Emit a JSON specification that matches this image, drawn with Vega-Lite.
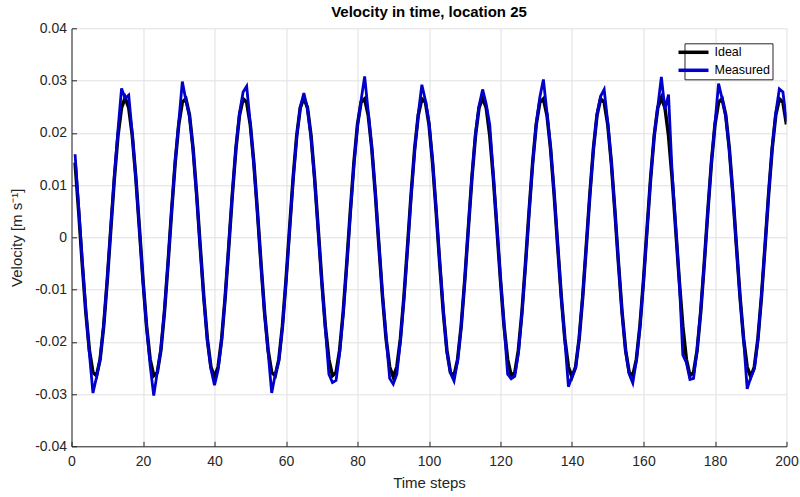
{
"$schema":"https://vega.github.io/schema/vega-lite/v6.json",
"width":715,"height":418,
"autosize":{"type":"none"},
"padding":{"left":71.5,"top":28.3,"right":13.5,"bottom":50.3},
"background":"white",
"config":{"view":{"stroke":null},"font":"Liberation Sans"},
"title":{"text":"Velocity in time, location 25","fontSize":15,"fontWeight":"bold","color":"#000000","offset":1,"anchor":"middle"},
"data":{"values":[
{"t":1,"i":0.01431,"m":0.0159},{"t":2,"i":0.005,"m":0.0058},{"t":3,"i":-0.005,"m":-0.0045},{"t":4,"i":-0.01431,"m":-0.014},{"t":5,"i":-0.0216,"m":-0.0222},
{"t":6,"i":-0.02586,"m":-0.0298},{"t":7,"i":-0.02649,"m":-0.0268},{"t":8,"i":-0.0234,"m":-0.0232},{"t":9,"i":-0.01702,"m":-0.0168},{"t":10,"i":-0.00825,"m":-0.008},
{"t":11,"i":0.00168,"m":0.002},{"t":12,"i":0.01137,"m":0.0118},{"t":13,"i":0.01946,"m":0.0205},{"t":14,"i":0.02483,"m":0.0285},{"t":15,"i":0.0267,"m":0.0266},
{"t":16,"i":0.02483,"m":0.0272},{"t":17,"i":0.01946,"m":0.0198},{"t":18,"i":0.01137,"m":0.0112},{"t":19,"i":0.00168,"m":0.0015},{"t":20,"i":-0.00825,"m":-0.0085},
{"t":21,"i":-0.01702,"m":-0.0172},{"t":22,"i":-0.0234,"m":-0.0245},{"t":23,"i":-0.02649,"m":-0.0303},{"t":24,"i":-0.02586,"m":-0.0258},{"t":25,"i":-0.0216,"m":-0.0214},
{"t":26,"i":-0.01431,"m":-0.014},{"t":27,"i":-0.005,"m":-0.0048},{"t":28,"i":0.005,"m":0.0052},{"t":29,"i":0.01431,"m":0.0146},{"t":30,"i":0.0216,"m":0.022},
{"t":31,"i":0.02586,"m":0.0298},{"t":32,"i":0.02649,"m":0.0262},{"t":33,"i":0.0234,"m":0.0232},{"t":34,"i":0.01702,"m":0.0168},{"t":35,"i":0.00825,"m":0.008},
{"t":36,"i":-0.00168,"m":-0.002},{"t":37,"i":-0.01137,"m":-0.0116},{"t":38,"i":-0.01946,"m":-0.0198},{"t":39,"i":-0.02483,"m":-0.0252},{"t":40,"i":-0.0267,"m":-0.0283},
{"t":41,"i":-0.02483,"m":-0.0254},{"t":42,"i":-0.01946,"m":-0.0197},{"t":43,"i":-0.01137,"m":-0.0112},{"t":44,"i":-0.00168,"m":-0.0014},{"t":45,"i":0.00825,"m":0.0085},
{"t":46,"i":0.01702,"m":0.0172},{"t":47,"i":0.0234,"m":0.0238},{"t":48,"i":0.02649,"m":0.0278},{"t":49,"i":0.02586,"m":0.0289},{"t":50,"i":0.0216,"m":0.0218},
{"t":51,"i":0.01431,"m":0.014},{"t":52,"i":0.005,"m":0.0048},{"t":53,"i":-0.005,"m":-0.0052},{"t":54,"i":-0.01431,"m":-0.0146},{"t":55,"i":-0.0216,"m":-0.022},
{"t":56,"i":-0.02586,"m":-0.0298},{"t":57,"i":-0.02649,"m":-0.0262},{"t":58,"i":-0.0234,"m":-0.0236},{"t":59,"i":-0.01702,"m":-0.0172},{"t":60,"i":-0.00825,"m":-0.0085},
{"t":61,"i":0.00168,"m":0.0014},{"t":62,"i":0.01137,"m":0.0112},{"t":63,"i":0.01946,"m":0.0193},{"t":64,"i":0.02483,"m":0.025},{"t":65,"i":0.0267,"m":0.0276},
{"t":66,"i":0.02483,"m":0.0246},{"t":67,"i":0.01946,"m":0.0192},{"t":68,"i":0.01137,"m":0.011},{"t":69,"i":0.00168,"m":0.0014},{"t":70,"i":-0.00825,"m":-0.0086},
{"t":71,"i":-0.01702,"m":-0.0174},{"t":72,"i":-0.0234,"m":-0.0262},{"t":73,"i":-0.02649,"m":-0.0278},{"t":74,"i":-0.02586,"m":-0.0274},{"t":75,"i":-0.0216,"m":-0.0222},
{"t":76,"i":-0.01431,"m":-0.0145},{"t":77,"i":-0.005,"m":-0.0052},{"t":78,"i":0.005,"m":0.0046},{"t":79,"i":0.01431,"m":0.014},{"t":80,"i":0.0216,"m":0.0214},
{"t":81,"i":0.02586,"m":0.0262},{"t":82,"i":0.02649,"m":0.0308},{"t":83,"i":0.0234,"m":0.024},{"t":84,"i":0.01702,"m":0.017},{"t":85,"i":0.00825,"m":0.0084},
{"t":86,"i":-0.00168,"m":-0.0015},{"t":87,"i":-0.01137,"m":-0.0112},{"t":88,"i":-0.01946,"m":-0.019},{"t":89,"i":-0.02483,"m":-0.027},{"t":90,"i":-0.0267,"m":-0.0281},
{"t":91,"i":-0.02483,"m":-0.0262},{"t":92,"i":-0.01946,"m":-0.0197},{"t":93,"i":-0.01137,"m":-0.0116},{"t":94,"i":-0.00168,"m":-0.002},{"t":95,"i":0.00825,"m":0.008},
{"t":96,"i":0.01702,"m":0.0168},{"t":97,"i":0.0234,"m":0.0236},{"t":98,"i":0.02649,"m":0.0292},{"t":99,"i":0.02586,"m":0.0262},{"t":100,"i":0.0216,"m":0.022},
{"t":101,"i":0.01431,"m":0.0145},{"t":102,"i":0.005,"m":0.0052},{"t":103,"i":-0.005,"m":-0.0048},{"t":104,"i":-0.01431,"m":-0.014},{"t":105,"i":-0.0216,"m":-0.022},
{"t":106,"i":-0.02586,"m":-0.026},{"t":107,"i":-0.02649,"m":-0.0275},{"t":108,"i":-0.0234,"m":-0.0236},{"t":109,"i":-0.01702,"m":-0.017},{"t":110,"i":-0.00825,"m":-0.0082},
{"t":111,"i":0.00168,"m":0.0018},{"t":112,"i":0.01137,"m":0.0115},{"t":113,"i":0.01946,"m":0.0198},{"t":114,"i":0.02483,"m":0.0252},{"t":115,"i":0.0267,"m":0.0283},
{"t":116,"i":0.02483,"m":0.0255},{"t":117,"i":0.01946,"m":0.0215},{"t":118,"i":0.01137,"m":0.0118},{"t":119,"i":0.00168,"m":0.002},{"t":120,"i":-0.00825,"m":-0.008},
{"t":121,"i":-0.01702,"m":-0.0168},{"t":122,"i":-0.0234,"m":-0.0262},{"t":123,"i":-0.02649,"m":-0.0271},{"t":124,"i":-0.02586,"m":-0.0266},{"t":125,"i":-0.0216,"m":-0.0222},
{"t":126,"i":-0.01431,"m":-0.0145},{"t":127,"i":-0.005,"m":-0.0052},{"t":128,"i":0.005,"m":0.0048},{"t":129,"i":0.01431,"m":0.0142},{"t":130,"i":0.0216,"m":0.0218},
{"t":131,"i":0.02586,"m":0.0268},{"t":132,"i":0.02649,"m":0.0302},{"t":133,"i":0.0234,"m":0.0238},{"t":134,"i":0.01702,"m":0.0172},{"t":135,"i":0.00825,"m":0.0085},
{"t":136,"i":-0.00168,"m":-0.0015},{"t":137,"i":-0.01137,"m":-0.0115},{"t":138,"i":-0.01946,"m":-0.0196},{"t":139,"i":-0.02483,"m":-0.0286},{"t":140,"i":-0.0267,"m":-0.0266},
{"t":141,"i":-0.02483,"m":-0.025},{"t":142,"i":-0.01946,"m":-0.0192},{"t":143,"i":-0.01137,"m":-0.0112},{"t":144,"i":-0.00168,"m":-0.0016},{"t":145,"i":0.00825,"m":0.0082},
{"t":146,"i":0.01702,"m":0.017},{"t":147,"i":0.0234,"m":0.0236},{"t":148,"i":0.02649,"m":0.027},{"t":149,"i":0.02586,"m":0.0283},{"t":150,"i":0.0216,"m":0.022},
{"t":151,"i":0.01431,"m":0.0143},{"t":152,"i":0.005,"m":0.005},{"t":153,"i":-0.005,"m":-0.005},{"t":154,"i":-0.01431,"m":-0.0145},{"t":155,"i":-0.0216,"m":-0.0218},
{"t":156,"i":-0.02586,"m":-0.0262},{"t":157,"i":-0.02649,"m":-0.0279},{"t":158,"i":-0.0234,"m":-0.0236},{"t":159,"i":-0.01702,"m":-0.0172},{"t":160,"i":-0.00825,"m":-0.0084},
{"t":161,"i":0.00168,"m":0.0015},{"t":162,"i":0.01137,"m":0.0114},{"t":163,"i":0.01946,"m":0.0195},{"t":164,"i":0.02483,"m":0.025},{"t":165,"i":0.0267,"m":0.0307},
{"t":166,"i":0.02483,"m":0.0245},{"t":167,"i":0.01946,"m":0.0273},{"t":168,"i":0.01137,"m":0.0125},{"t":169,"i":0.00168,"m":0.002},{"t":170,"i":-0.00825,"m":-0.0082},
{"t":171,"i":-0.01702,"m":-0.0225},{"t":172,"i":-0.0234,"m":-0.024},{"t":173,"i":-0.02649,"m":-0.0272},{"t":174,"i":-0.02586,"m":-0.027},{"t":175,"i":-0.0216,"m":-0.0214},
{"t":176,"i":-0.01431,"m":-0.014},{"t":177,"i":-0.005,"m":-0.005},{"t":178,"i":0.005,"m":0.005},{"t":179,"i":0.01431,"m":0.0145},{"t":180,"i":0.0216,"m":0.0218},
{"t":181,"i":0.02586,"m":0.0294},{"t":182,"i":0.02649,"m":0.0265},{"t":183,"i":0.0234,"m":0.0232},{"t":184,"i":0.01702,"m":0.0168},{"t":185,"i":0.00825,"m":0.0082},
{"t":186,"i":-0.00168,"m":-0.0018},{"t":187,"i":-0.01137,"m":-0.0115},{"t":188,"i":-0.01946,"m":-0.0195},{"t":189,"i":-0.02483,"m":-0.029},{"t":190,"i":-0.0267,"m":-0.0268},
{"t":191,"i":-0.02483,"m":-0.0252},{"t":192,"i":-0.01946,"m":-0.0196},{"t":193,"i":-0.01137,"m":-0.0112},{"t":194,"i":-0.00168,"m":-0.0015},{"t":195,"i":0.00825,"m":0.0084},
{"t":196,"i":0.01702,"m":0.0172},{"t":197,"i":0.0234,"m":0.0238},{"t":198,"i":0.02649,"m":0.0284},{"t":199,"i":0.02586,"m":0.0278},{"t":200,"i":0.0216,"m":0.0222}
]},
"encoding":{
"x":{"field":"t","type":"quantitative","scale":{"domain":[0,200],"nice":false},
"axis":{"values":[0,20,40,60,80,100,120,140,160,180,200],"title":"Time steps","titleFontSize":15,"titleFontWeight":"normal","titleColor":"#262626","titlePadding":7,
"labelFontSize":14,"labelColor":"#262626","labelPadding":13,"grid":true,"gridColor":"#e0e0e0","domainColor":"#262626","tickColor":"#262626","tickSize":-5,"labelFlush":false}}
},
"layer":[
{"mark":{"type":"line","strokeWidth":3.5,"clip":true},
 "encoding":{
  "y":{"field":"i","type":"quantitative","scale":{"domain":[-0.04,0.04],"nice":false},
   "axis":{"values":[-0.04,-0.03,-0.02,-0.01,0,0.01,0.02,0.03,0.04],"labelExpr":"(datum.value < -0.0001 ? '-' : '') + (abs(datum.value) < 0.0001 ? '0' : format(abs(datum.value), '.2f'))",
   "title":"Velocity [m s⁻¹]","titleFontSize":15,"titleFontWeight":"normal","titleColor":"#262626","titlePadding":10,
   "labelFontSize":14,"labelColor":"#262626","labelPadding":10,"grid":true,"gridColor":"#e0e0e0","domainColor":"#262626","tickColor":"#262626","tickSize":-5}},
  "color":{"datum":"Ideal","type":"nominal","scale":{"domain":["Ideal","Measured"],"range":["#000000","#0000cc"]},
   "legend":{"title":null,"orient":"none","legendX":613,"legendY":15,"symbolType":"M-3,0H3","symbolStrokeWidth":3.5,"symbolSize":100,
   "labelFontSize":12.5,"labelColor":"#000000","strokeColor":"#262626","fillColor":"white","padding":2,"labelOffset":14,"rowPadding":4}}
 }},
{"mark":{"type":"line","strokeWidth":2.8,"clip":true},
 "encoding":{
  "y":{"field":"m","type":"quantitative",
   "axis":{"values":[-0.04,-0.03,-0.02,-0.01,0,0.01,0.02,0.03,0.04],"labelExpr":"(datum.value < -0.0001 ? '-' : '') + (abs(datum.value) < 0.0001 ? '0' : format(abs(datum.value), '.2f'))",
   "title":"Velocity [m s⁻¹]","titleFontSize":15,"titleFontWeight":"normal","titleColor":"#262626","titlePadding":10,
   "labelFontSize":14,"labelColor":"#262626","labelPadding":10,"grid":true,"gridColor":"#e0e0e0","domainColor":"#262626","tickColor":"#262626","tickSize":-5}},
  "color":{"datum":"Measured","type":"nominal"}
 }}
]
}
